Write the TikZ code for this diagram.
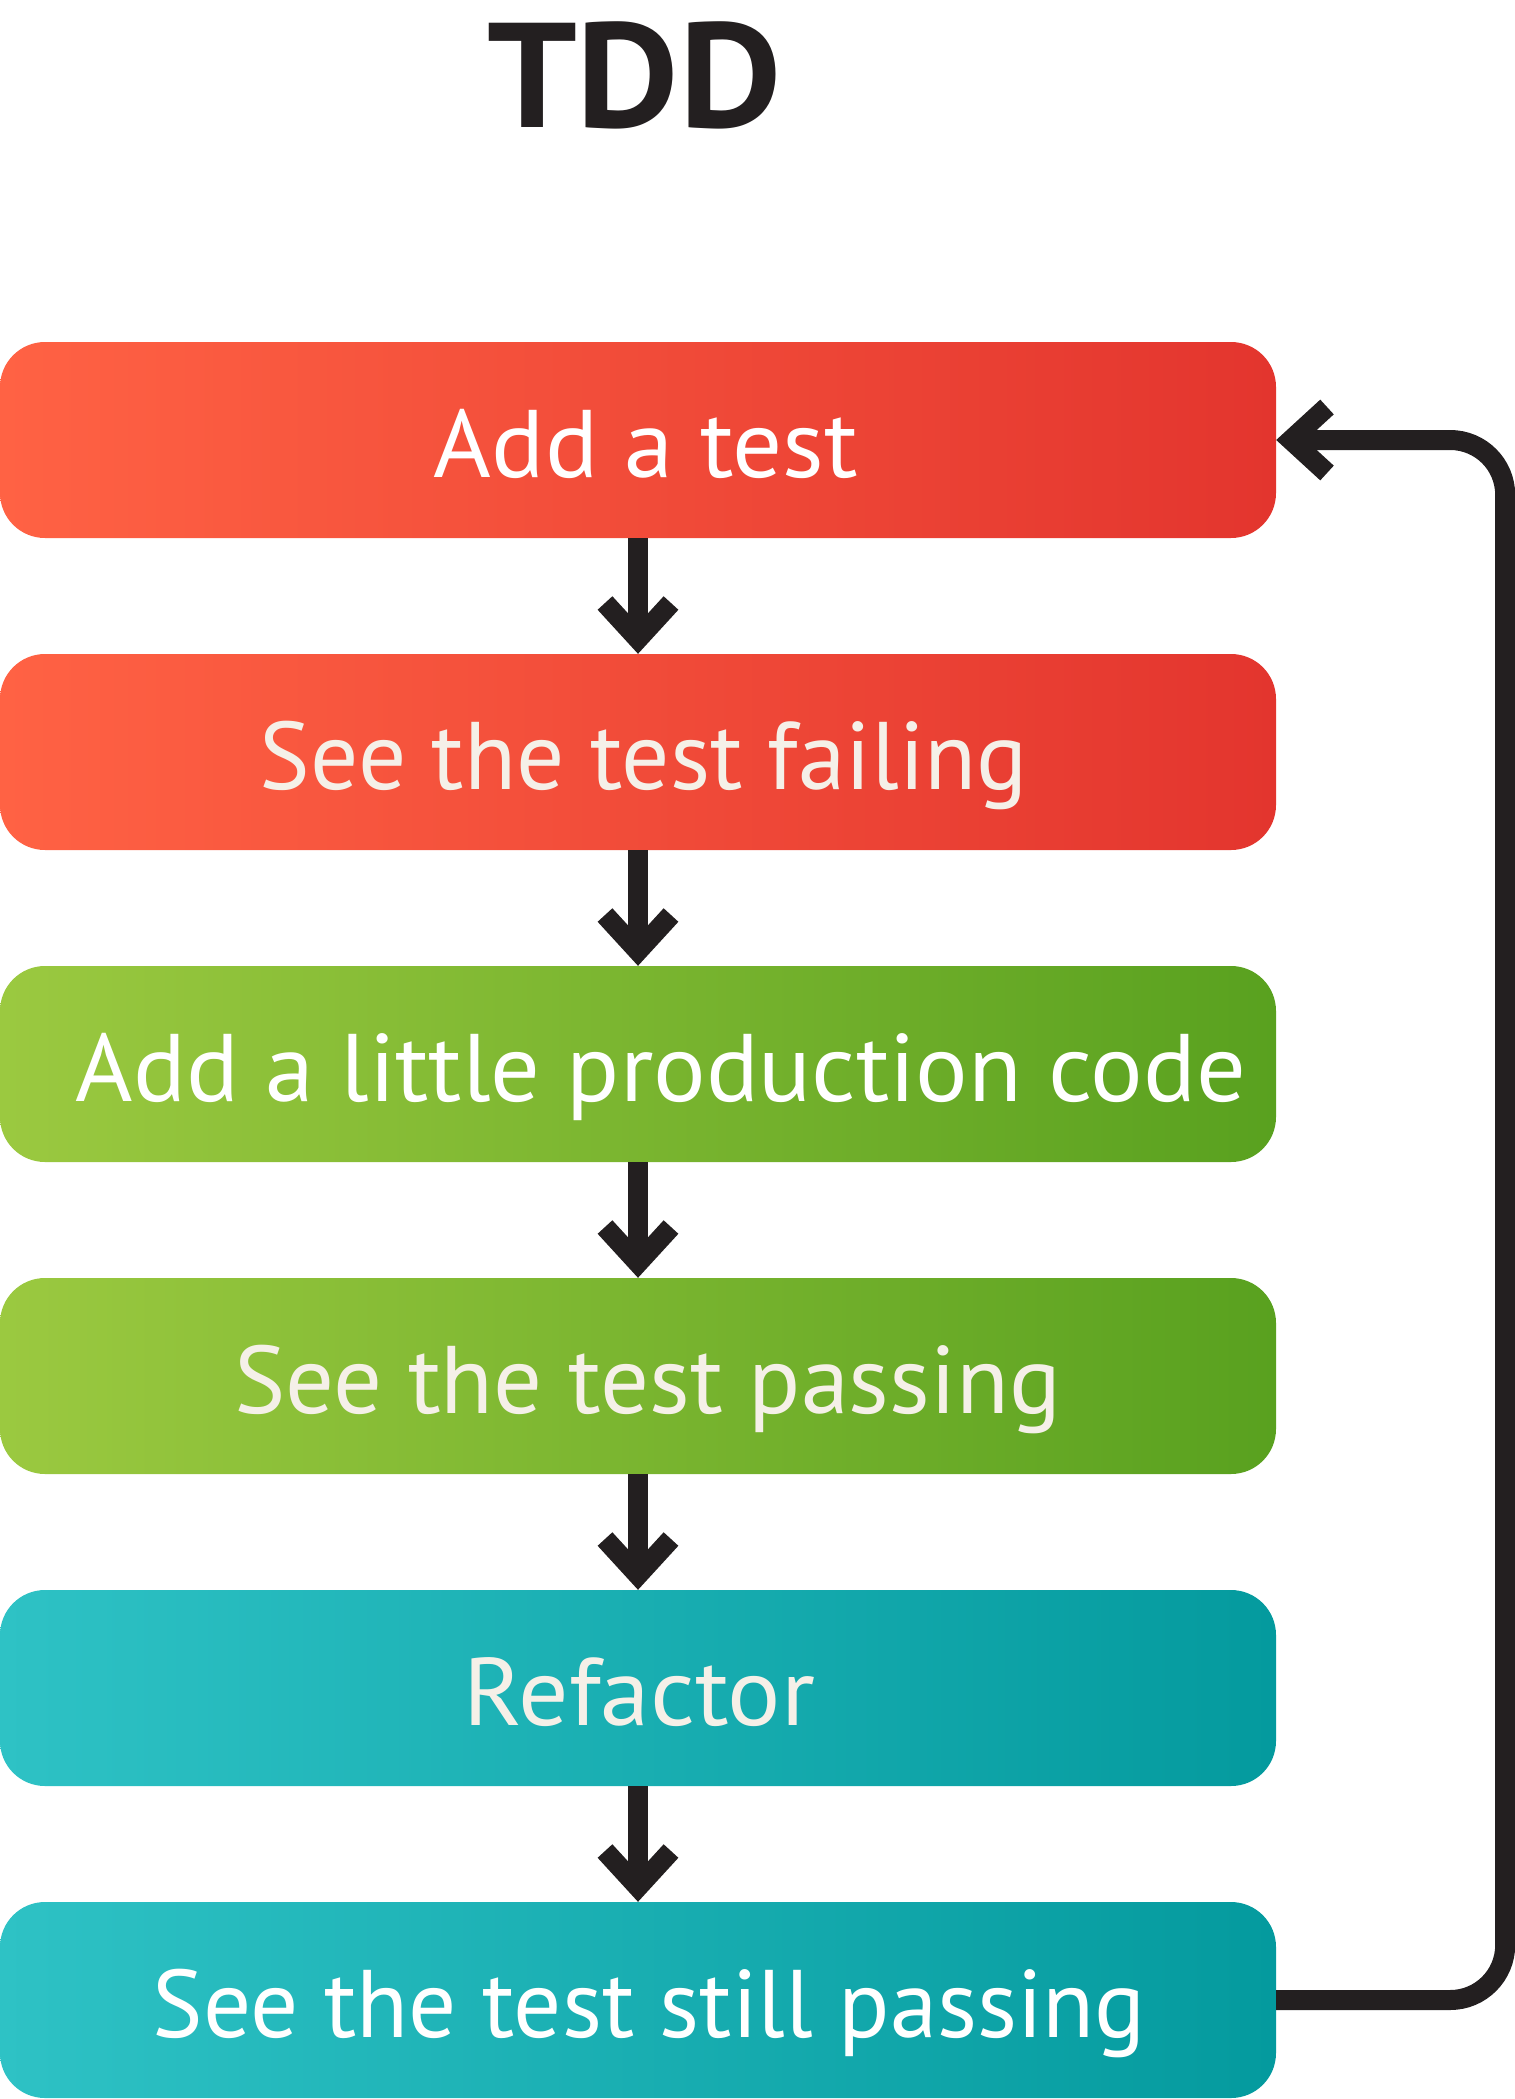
\documentclass[tikz,border=0pt]{standalone}
\usepackage{fontspec}
\setmainfont{PT Sans}
\usetikzlibrary{arrows.meta}
\definecolor{ink}{HTML}{231F20}
\definecolor{redL}{HTML}{FF6244}
\definecolor{redR}{HTML}{E3352E}
\definecolor{grnL}{HTML}{9BC940}
\definecolor{grnR}{HTML}{59A11F}
\definecolor{tealL}{HTML}{2EC2C5}
\definecolor{tealR}{HTML}{049A9E}
\definecolor{cream}{HTML}{F5F0E8}
\newcommand\fitw[2]{\resizebox{#1}{\height}{#2}}
\tikzset{
  stepbox/.style={rounded corners=45pt, minimum width=1276pt, minimum height=196pt, inner sep=0pt, draw=none},
  redbox/.style={stepbox, left color=redL, right color=redR},
  grnbox/.style={stepbox, left color=grnL, right color=grnR},
  tealbox/.style={stepbox, left color=tealL, right color=tealR},
  lbl/.style={anchor=base, inner sep=0pt, font=\fontsize{96}{110}\selectfont},
  conn/.style={draw=ink, line width=20pt, -{Straight Barb[sharp, length=36pt, width=66pt]}},
}
\begin{document}
\begin{tikzpicture}[x=1pt,y=-1pt]
\useasboundingbox (0,0) rectangle (1515,2099);
\node[anchor=base, inner sep=0pt, text=ink, font=\fontsize{149}{160}\selectfont\bfseries] (title) at (634.5,127) {\fitw{295pt}{TDD}};

\node[redbox]  (b1) at (638,440) {};
\node[redbox]  (b2) at (638,752) {};
\node[grnbox]  (b3) at (638,1064) {};
\node[grnbox]  (b4) at (638,1376) {};
\node[tealbox] (b5) at (638,1688) {};
\node[tealbox] (b6) at (638,2000) {};

\node[lbl, text=white] (t1) at (646,477) {\fitw{424pt}{Add a test}};
\node[lbl, text=cream] (t2) at (644,789) {\fitw{768pt}{See the test failing}};
\node[lbl, text=white] (t3) at (661,1101) {\fitw{1170pt}{Add a little production code}};
\node[lbl, text=cream] (t4) at (647.5,1413) {\fitw{827pt}{See the test passing}};
\node[lbl, text=cream] (t5) at (639.5,1725) {\fitw{351pt}{Refactor}};
\node[lbl, text=white] (t6) at (649.5,2037) {\fitw{993pt}{See the test still passing}};

\draw[conn] (b1.south) -- (b2.north);
\draw[conn] (b2.south) -- (b3.north);
\draw[conn] (b3.south) -- (b4.north);
\draw[conn] (b4.south) -- (b5.north);
\draw[conn] (b5.south) -- (b6.north);
\draw[conn, rounded corners=55pt] (b6.east) -- ([xshift=229pt]b6.east) |- (b1.east);
\end{tikzpicture}
\end{document}
